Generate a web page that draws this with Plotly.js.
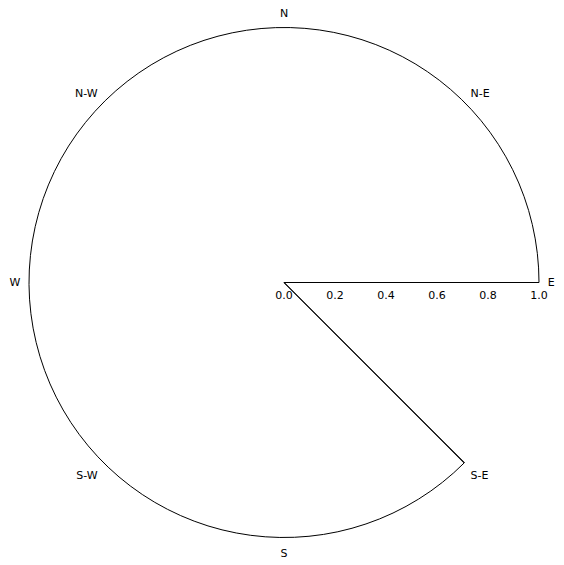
<!DOCTYPE html>
<html>
<head>
<meta charset="utf-8">
<script src="https://cdn.plot.ly/plotly-3.0.1.min.js"></script>
<style>
  body { margin: 0; background: #fff; }
  #chart { width: 564px; height: 565px; }
</style>
</head>
<body>
<div id="chart"></div>
<script>
// sector limits (degrees) and tick labels
const sectorRange = [0, 315];
const dirAngles = [0, 45, 90, 135, 180, 225, 270, 315];
const dirLabels = ["E", "N-E", "N", "N-W", "W", "S-W", "S", "S-E"];
const radialTicks = [0, 0.2, 0.4, 0.6, 0.8, 1.0];
const radialLabels = ["0.0", "0.2", "0.4", "0.6", "0.8", "1.0"];

const font = { family: "DejaVu Sans", size: 11, color: "#000" };
// half-pixel offset keeps the horizontal spine crisp
const dom = { x: [29 / 564, 539 / 564], y: [27.5 / 565, 537.5 / 565] };

// empty traces so both polar subplots get drawn
const traces = [
  { type: "scatterpolar", r: [], theta: [], subplot: "polar", showlegend: false },
  { type: "scatterpolar", r: [], theta: [], subplot: "polar2", showlegend: false },
];

const layout = {
  width: 564,
  height: 565,
  margin: { l: 0, r: 0, t: 0, b: 0 },
  paper_bgcolor: "#fff",
  font: font,
  showlegend: false,
  polar: {
    domain: dom,
    sector: sectorRange,
    bgcolor: "rgba(0,0,0,0)",
    angularaxis: {
      direction: "counterclockwise",
      rotation: 0,
      tickmode: "array",
      tickvals: dirAngles,
      ticktext: dirLabels,
      // invisible ticks just push the labels off the arc
      ticks: "outside",
      ticklen: 6,
      tickcolor: "rgba(0,0,0,0)",
      showgrid: false,
      showline: true,
      linecolor: "#000",
      linewidth: 1,
      tickfont: font,
    },
    radialaxis: {
      range: [0, 1],
      angle: 0,
      side: "clockwise",
      tickmode: "array",
      tickvals: radialTicks,
      ticktext: radialLabels,
      ticks: "outside",
      ticklen: 3,
      tickcolor: "rgba(0,0,0,0)",
      showgrid: false,
      showline: true,
      linecolor: "#000",
      linewidth: 1,
      tickfont: font,
      tickangle: 0,
    },
  },
  // second subplot only supplies the spine at the end of the sector
  polar2: {
    domain: dom,
    sector: sectorRange,
    bgcolor: "rgba(0,0,0,0)",
    angularaxis: { visible: false, showgrid: false },
    radialaxis: {
      range: [0, 1],
      angle: sectorRange[1],
      showticklabels: false,
      ticks: "",
      showgrid: false,
      showline: true,
      linecolor: "#000",
      linewidth: 1,
    },
  },
};

Plotly.newPlot("chart", traces, layout, { displayModeBar: false, staticPlot: true });
</script>
</body>
</html>
